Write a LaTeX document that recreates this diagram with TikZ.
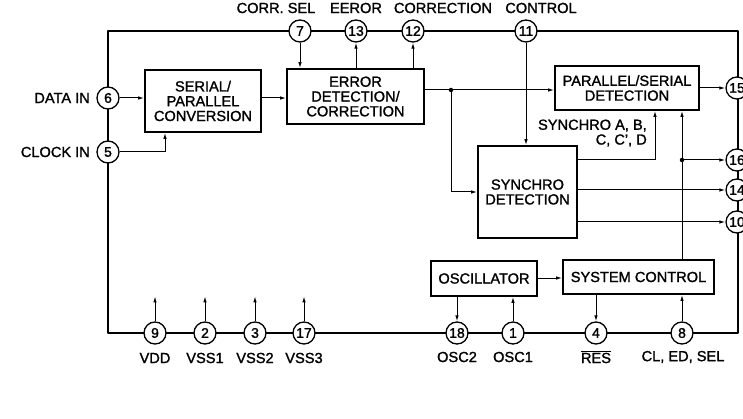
\documentclass[tikz,border=0pt]{standalone}
\usepackage{fontspec}
\setmainfont{Liberation Sans}[FakeBold=1.4]
\usetikzlibrary{arrows.meta,calc}
\begin{document}
\begin{tikzpicture}[x=1pt,y=-1pt,
  font=\fontsize{14.6}{14.8}\selectfont,
  frame/.style={line width=2.4pt,line join=round},
  blk/.style={draw,line width=1.8pt,align=center,inner sep=0pt},
  pin/.style={draw,circle,fill=white,line width=1.3pt,minimum size=22pt,inner sep=0pt,font=\fontsize{14}{14}\selectfont},
  wire/.style={line width=1pt},
  arr/.style={wire,-{Latex[length=6pt,width=3.5pt]}},
  dot/.style={circle,fill=black,inner sep=0pt,minimum size=4.5pt},
  lbl/.style={inner sep=0pt}]
\useasboundingbox (0,0) rectangle (743,419);
% frame
\coordinate (fTL) at (108,31);
\coordinate (fTR) at (738,31);
\coordinate (fBR) at (738,333);
\coordinate (fBL) at (108,333);
\draw[frame] (fTL) -- (fTR) -- (fBR) -- (fBL) -- cycle;
% blocks
\node[blk,minimum width=116pt,minimum height=62pt] (sp) at (203,101) {SERIAL/\\PARALLEL\\CONVERSION};
\node[blk,minimum width=137pt,minimum height=55pt] (err) at (355.5,96.5) {ERROR\\DETECTION/\\CORRECTION};
\node[blk,minimum width=144pt,minimum height=44pt] (ps) at (627,88) {PARALLEL/SERIAL\\DETECTION};
\node[blk,minimum width=99pt,minimum height=92pt] (syn) at (527.5,192) {SYNCHRO\\DETECTION};
\node[blk,minimum width=106pt,minimum height=35pt] (osc) at (484,278.5) {OSCILLATOR};
\node[blk,minimum width=151pt,minimum height=34pt] (sys) at (638.5,277) {SYSTEM CONTROL};
% pins
\node[pin] (p6) at (108,98) {6};
\node[pin] (p5) at (108,152) {5};
\node[pin] (p7) at (300,31) {7};
\node[pin] (p13) at (356,31) {13};
\node[pin] (p12) at (413,31) {12};
\node[pin] (p11) at (526,31) {11};
\node[pin] (p15) at (737,88) {15};
\node[pin] (p16) at (737,160) {16};
\node[pin] (p14) at (737,190) {14};
\node[pin] (p10) at (737,222) {10};
\node[pin] (p9) at (155,333) {9};
\node[pin] (p2) at (205,333) {2};
\node[pin] (p3) at (255,333) {3};
\node[pin] (p17) at (304,333) {17};
\node[pin] (p18) at (457,333) {18};
\node[pin] (p1) at (513,333) {1};
\node[pin] (p4) at (596,333) {4};
\node[pin] (p8) at (682,333) {8};
% pin labels
\node[lbl,anchor=east] at (90,98) {DATA IN};
\node[lbl,anchor=east] at (90,152) {CLOCK IN};
\node[lbl] at (276,8) {CORR. SEL};
\node[lbl] at (356,8) {EEROR};
\node[lbl] at (443,8) {CORRECTION};
\node[lbl] at (541,8) {CONTROL};
\node[lbl] at (155,358) {VDD};
\node[lbl] at (205,358) {VSS1};
\node[lbl] at (255,358) {VSS2};
\node[lbl] at (304,358) {VSS3};
\node[lbl] at (457,357) {OSC2};
\node[lbl] at (513,357) {OSC1};
\node[lbl] at (596,357) {$\overline{\hbox{RES}}$};
\node[lbl] at (683,357) {CL, ED, SEL};
\node[lbl,anchor=east,align=right] at (647,133) {SYNCHRO A, B,\\C, C', D};
% connectors
\draw[arr] (p6.east) -- (p6 -| sp.west);
\draw[arr] (p5.east) -| ([xshift=-38pt]sp.south);
\draw[arr] (p6 -| sp.east) -- (p6 -| err.west);
\draw[arr] (p7.south) -- (p7 |- err.north);
\draw[arr] (p13 |- err.north) -- (p13.south);
\draw[arr] (p12 |- err.north) -- (p12.south);
\coordinate (d1) at (451,90);
\draw[wire] (err.east |- d1) -- (d1);
\draw[arr] (d1) -- (d1 -| ps.west);
\coordinate (s1) at (451,192);
\draw[arr] (d1) -- (s1) -- (s1 -| syn.west);
\node[dot] at (d1) {};
\draw[arr] (p11.south) -- (p11 |- syn.north);
\draw[arr] (ps.east |- p15) -- (p15.west);
\coordinate (s2) at (655,160);
\draw[arr] (syn.east |- s2) -- (s2) -- (s2 |- ps.south);
\coordinate (d2) at (682,160);
\draw[arr] (sys.north -| d2) -- (d2 |- ps.south);
\draw[arr] (d2) -- (p16.west);
\node[dot] at (d2) {};
\draw[arr] (syn.east |- p14) -- (p14.west);
\draw[arr] (syn.east |- p10) -- (p10.west);
\draw[arr] (osc.east |- 0,278) -- (sys.west |- 0,278);
\draw[arr] (p18 |- osc.south) -- (p18.north);
\draw[arr] (p1.north) -- (p1 |- osc.south);
\draw[arr] (p4 |- sys.south) -- (p4.north);
\draw[arr] (p8.north) -- (p8 |- sys.south);
\foreach \p in {p9,p2,p3,p17}{
  \coordinate (\p t) at ($(\p.north)+(0,-25)$);
  \draw[arr] (\p.north) -- (\p t);
}
\end{tikzpicture}
\end{document}
